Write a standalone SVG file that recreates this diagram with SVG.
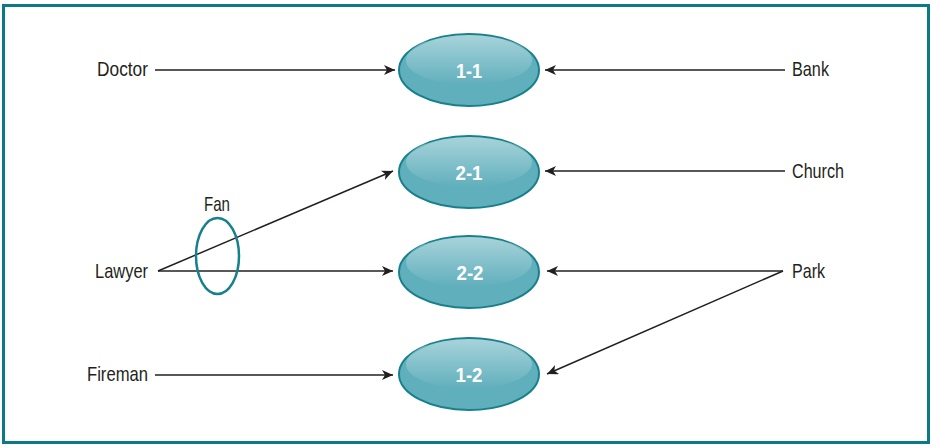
<svg xmlns="http://www.w3.org/2000/svg" width="933" height="448" viewBox="0 0 933 448">
<style>
.lbl{font-family:"Liberation Sans",Arial,sans-serif;font-size:21px;fill:#231f20}
.nl{font-family:"Liberation Sans",Arial,sans-serif;font-size:20px;font-weight:bold;fill:#ffffff;text-anchor:middle}
.node{fill:#60afbc;stroke:#17808c;stroke-width:2}
.hl{fill:url(#hg)}
.conn line{stroke:#231f20;stroke-width:1.5;marker-end:url(#ah)}
</style>
<defs>
<linearGradient id="hg" x1="0" y1="0" x2="0" y2="1">
<stop offset="0" stop-color="#ffffff" stop-opacity="0.45"/>
<stop offset="1" stop-color="#ffffff" stop-opacity="0"/>
</linearGradient>
<marker id="ah" markerUnits="userSpaceOnUse" markerWidth="12" markerHeight="10" refX="11" refY="5" orient="auto">
<path d="M0,0 L11,5 L0,10 L3,5 z" fill="#231f20"/>
</marker>
</defs>
<rect x="3.5" y="5.5" width="925" height="437" fill="#ffffff" stroke="#0b7a86" stroke-width="3"/>
<g id="connectors" class="conn">
<line x1="155" y1="70" x2="395" y2="70"/>
<line x1="785" y1="70" x2="545" y2="70"/>
<line x1="785" y1="171" x2="545" y2="171"/>
<line x1="158" y1="271" x2="393" y2="171"/>
<line x1="158" y1="271" x2="393" y2="271"/>
<line x1="783" y1="271" x2="547" y2="271"/>
<line x1="783" y1="271" x2="547" y2="374"/>
<line x1="155" y1="375" x2="393" y2="375"/>
</g>
<g id="n11"><ellipse class="node" cx="469" cy="70" rx="70" ry="36"/><ellipse class="hl" cx="469" cy="60" rx="63" ry="25"/><text class="nl" x="469" y="78" textLength="26" lengthAdjust="spacingAndGlyphs">1-1</text></g>
<g id="n21"><ellipse class="node" cx="469" cy="172" rx="70" ry="36"/><ellipse class="hl" cx="469" cy="162" rx="63" ry="25"/><text class="nl" x="469" y="180" textLength="27" lengthAdjust="spacingAndGlyphs">2-1</text></g>
<g id="n22"><ellipse class="node" cx="469" cy="272" rx="70" ry="36"/><ellipse class="hl" cx="469" cy="262" rx="63" ry="25"/><text class="nl" x="470" y="280" textLength="27" lengthAdjust="spacingAndGlyphs">2-2</text></g>
<g id="n12"><ellipse class="node" cx="469" cy="374" rx="70" ry="36"/><ellipse class="hl" cx="469" cy="364" rx="63" ry="25"/><text class="nl" x="469" y="382" textLength="27" lengthAdjust="spacingAndGlyphs">1-2</text></g>
<g id="doctor"><text class="lbl" x="148" y="76" text-anchor="end" textLength="51" lengthAdjust="spacingAndGlyphs">Doctor</text></g>
<g id="lawyer"><text class="lbl" x="148" y="278" text-anchor="end" textLength="53" lengthAdjust="spacingAndGlyphs">Lawyer</text></g>
<g id="fireman"><text class="lbl" x="148" y="381" text-anchor="end" textLength="61" lengthAdjust="spacingAndGlyphs">Fireman</text></g>
<g id="bank"><text class="lbl" x="792" y="76" textLength="37" lengthAdjust="spacingAndGlyphs">Bank</text></g>
<g id="church"><text class="lbl" x="792" y="178" textLength="52" lengthAdjust="spacingAndGlyphs">Church</text></g>
<g id="park"><text class="lbl" x="792" y="278" textLength="33" lengthAdjust="spacingAndGlyphs">Park</text></g>
<g id="fan"><ellipse cx="217.5" cy="256" rx="21.5" ry="38" fill="none" stroke="#17808c" stroke-width="2.5"/><text class="lbl" x="217" y="211" text-anchor="middle" textLength="26" lengthAdjust="spacingAndGlyphs">Fan</text></g>
</svg>
